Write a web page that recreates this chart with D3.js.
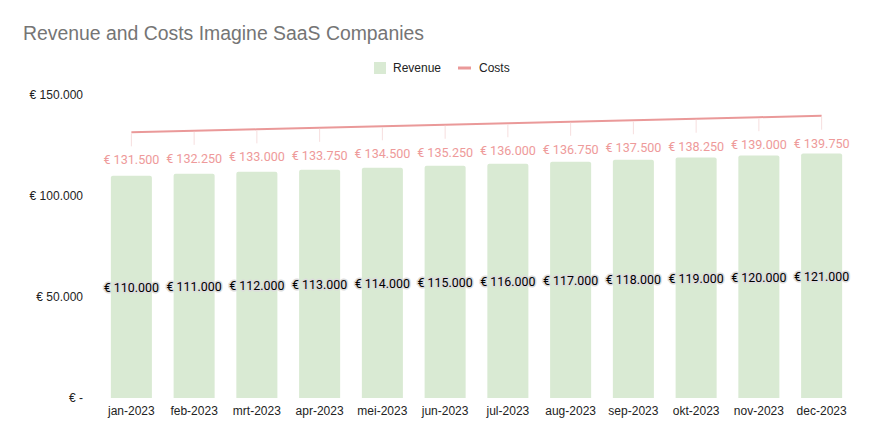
<!DOCTYPE html>
<html><head><meta charset="utf-8">
<script src="https://cdn.jsdelivr.net/npm/d3@7"></script>
<style>body{margin:0;background:#fff;}svg{display:block;}</style>
</head><body>
<svg id="chart" width="885" height="441"></svg>
<script>
const months = ["jan-2023","feb-2023","mrt-2023","apr-2023","mei-2023","jun-2023","jul-2023","aug-2023","sep-2023","okt-2023","nov-2023","dec-2023"];
const revenue = [110000,111000,112000,113000,114000,115000,116000,117000,118000,119000,120000,121000];
const costs = [131500,132250,133000,133750,134500,135250,136000,136750,137500,138250,139000,139750];
const yTicks = [0,50000,100000,150000];

const svg = d3.select("#chart");
const W = 885, H = 441;
const m = {left:100, right:32, top:95, bottom:43};
const x = d3.scaleBand().domain(months).range([m.left, W - m.right]).paddingInner(0.346).paddingOuter(0.173);
const y = d3.scaleLinear().domain([0,150000]).range([H - m.bottom, m.top]);

const eur = v => v === 0 ? "€ -" : "€ " + d3.format(",")(v).replace(/,/g, ".");

// title
svg.append("text").attr("x",23).attr("y",40).attr("font-family","Liberation Sans, Arial, sans-serif")
  .attr("font-size",19.4).attr("fill","#757575").text("Revenue and Costs Imagine SaaS Companies");

// legend
const lg = svg.append("g").attr("font-family","Liberation Sans, Arial, sans-serif").attr("font-size",12).attr("fill","#222");
lg.append("rect").attr("x",374).attr("y",62).attr("width",12).attr("height",12).attr("fill","#d9ead3");
lg.append("text").attr("x",393).attr("y",72).text("Revenue");
lg.append("line").attr("x1",458).attr("x2",471).attr("y1",68).attr("y2",68).attr("stroke","#ea9999").attr("stroke-width",3);
lg.append("text").attr("x",479).attr("y",72).text("Costs");

// y axis
const ya = svg.append("g").attr("transform",`translate(83,0)`)
  .call(d3.axisLeft(y).tickValues(yTicks).tickFormat(eur).tickSize(0).tickPadding(0));
ya.select(".domain").remove();
ya.selectAll("text").attr("font-family","Liberation Sans, Arial, sans-serif").attr("font-size",12).attr("fill","#222");

// x axis
const xa = svg.append("g").attr("transform",`translate(0,${H - m.bottom})`)
  .call(d3.axisBottom(x).tickSize(0).tickPadding(8));
xa.select(".domain").remove();
xa.selectAll("text").attr("font-family","Liberation Sans, Arial, sans-serif").attr("font-size",12).attr("fill","#222");

// bars with rounded top
const r = 2;
svg.append("g").selectAll("path").data(months).join("path")
  .attr("fill","#d9ead3")
  .attr("d",(d,i)=>{
    const x0 = x(d), w = x.bandwidth(), yt = y(revenue[i]), yb = y(0);
    return `M${x0},${yb}V${yt+r}Q${x0},${yt} ${x0+r},${yt}H${x0+w-r}Q${x0+w},${yt} ${x0+w},${yt+r}V${yb}Z`;
  });

// cost line
const cx = d => x(d) + x.bandwidth()/2;
svg.append("path").datum(months).attr("fill","none").attr("stroke","#ea9999").attr("stroke-width",2)
  .attr("d", d3.line().x(d=>cx(d)).y((d,i)=>y(costs[i]))(months));

// leader lines
svg.append("g").selectAll("line").data(months).join("line")
  .attr("x1",cx).attr("x2",cx).attr("y1",(d,i)=>y(costs[i])+1).attr("y2",(d,i)=>y(costs[i])+14)
  .attr("stroke","#f6dede").attr("stroke-width",1);

// cost labels
svg.append("g").selectAll("text").data(months).join("text")
  .attr("x",cx).attr("y",(d,i)=>y(costs[i])+32).attr("text-anchor","middle")
  .attr("font-family","Roboto, sans-serif").attr("font-size",12.6).attr("fill","#ee9a9a")
  .text((d,i)=>eur(costs[i]));

// revenue labels
svg.append("g").selectAll("text").data(months).join("text")
  .attr("x",cx).attr("y",(d,i)=>y(revenue[i]/2)+5).attr("text-anchor","middle")
  .attr("font-family","Roboto, sans-serif").attr("font-size",12.4).attr("fill","#000")
  .attr("stroke","#dcdcdc").attr("stroke-width",3).attr("paint-order","stroke").attr("stroke-linejoin","round")
  .text((d,i)=>eur(revenue[i]));
</script>
</body></html>
